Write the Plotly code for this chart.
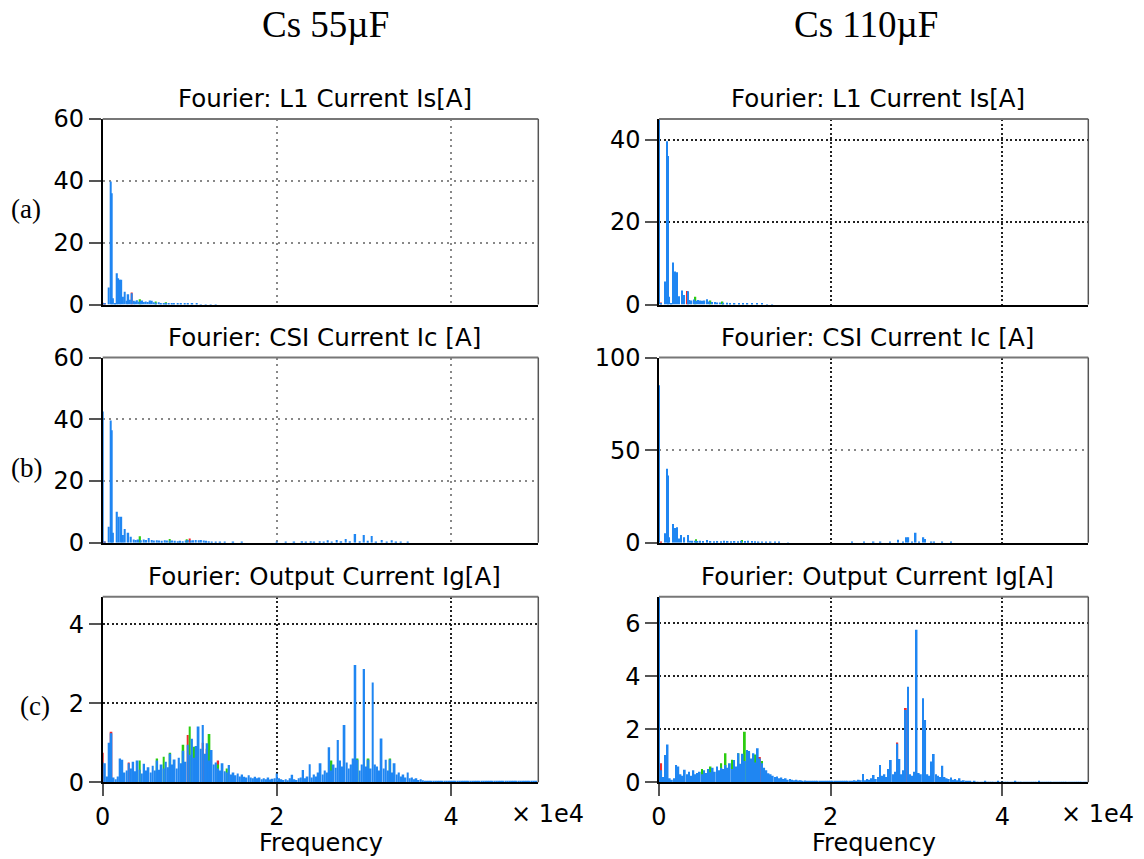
import plotly.graph_objects as go
from plotly.subplots import make_subplots

# ---------------- DATA ----------------
BIN_HZ = 250  # frequency spacing of the dense (c) spectra

# (a) L1 current Is, Cs 55uF  -- sparse (frequency Hz, amplitude A)
a55_blue_f = [0, 250, 700, 900, 1050, 1200, 1450, 1650, 1800, 1950, 2150, 2350, 2550, 2750, 2950, 3150, 3350, 3550,
              3750, 3950, 4150, 4350, 4550, 4750, 4950, 5200, 5450, 5650, 5850, 6100, 6400, 6700, 7000, 7300, 7600,
              7900, 8200, 8600, 9000, 9400, 9800, 10300, 10800, 11300, 11800, 12400, 13000]
a55_blue_v = [0.4, 0.3, 5.5, 39.8, 36.0, 2.0, 0.3, 10.1, 8.5, 8.0, 8.0, 2.5, 4.1, 1.2, 3.3, 1.5, 3.6, 1.2,
              1.0, 1.4, 0.9, 1.1, 1.3, 0.8, 1.0, 0.8, 1.3, 1.2, 0.7, 0.6, 0.7, 0.5, 0.5, 0.45, 0.5,
              0.4, 0.35, 0.3, 0.3, 0.25, 0.25, 0.2, 0.2, 0.15, 0.15, 0.1, 0.1]
a55_green_f = [4300, 6100, 7300]
a55_green_v = [1.7, 1.0, 0.7]
a55_red_f = [0, 250, 3350]
a55_red_v = [0.6, 0.5, 3.9]

# (a) L1 current Is, Cs 110uF
a110_blue_f = [0, 250, 700, 900, 1050, 1200, 1450, 1650, 1850, 2100, 2350, 2650, 2950, 3350, 3550, 3800, 4050,
               4300, 4550, 4800, 5050, 5300, 5600, 5900, 6200, 6500, 6800, 7100, 7500, 7900, 8300, 8800, 9300,
               9800, 10300, 10800, 11400, 12000, 12600, 13200]
a110_blue_v = [48.0, 0.3, 5.6, 39.6, 36.0, 1.9, 0.3, 10.2, 8.0, 7.8, 2.0, 3.4, 2.3, 3.2, 1.1, 1.0, 1.2,
               0.9, 1.1, 1.0, 0.9, 1.0, 1.3, 0.7, 0.6, 0.6, 0.5, 0.5, 0.45, 0.4,
               0.35, 0.3, 0.3, 0.25, 0.2, 0.2, 0.15, 0.15, 0.1, 0.1]
a110_green_f = [4250, 6000, 7400]
a110_green_v = [1.9, 1.0, 0.7]
a110_red_f = [250, 3300]
a110_red_v = [0.5, 3.3]

# (b) CSI current Ic, Cs 55uF
b55_blue_f = [0, 250, 700, 900, 1050, 1200, 1650, 1850, 2150, 2350, 2550, 2950, 3250, 3550, 3800, 4100, 4400,
              4700, 5000, 5300, 5600, 5900, 6200, 6500, 6800, 7100, 7400, 7700, 8000, 8300, 8600, 8900, 9200,
              9500, 9800, 10100, 10400, 10700, 11000, 11300, 11600, 11900, 12200, 12500, 13000, 13500, 14000,
              15000, 16000, 20000, 21000, 22000, 22900, 23350, 23850, 24300, 24900, 25400, 25850, 26300, 26850,
              27400, 27900, 28400, 29000, 29500, 30000, 30450, 30900, 31400, 32050, 32600, 33150, 33700, 34200,
              35000]
b55_blue_v = [42.5, 0.3, 5.2, 39.6, 36.4, 3.2, 10.0, 8.4, 8.4, 2.5, 4.4, 3.2, 1.9, 1.0, 0.9, 1.0, 0.8,
              1.0, 0.9, 1.5, 0.9, 0.7, 0.8, 0.7, 0.6, 0.8, 0.7, 0.6, 0.7, 0.6, 0.5, 0.6, 0.5,
              0.7, 0.9, 0.7, 0.8, 0.9, 0.8, 0.9, 0.7, 0.6, 0.5, 0.4, 0.3, 0.2, 0.15,
              0.1, 0.1, 0.1, 0.15, 0.2, 0.5, 0.2, 0.5, 0.3, 0.5, 0.3, 0.8, 0.4, 0.9,
              0.5, 1.2, 0.5, 2.8, 0.5, 2.5, 0.6, 2.2, 0.4, 0.9, 0.4, 0.8, 0.3, 0.2,
              0.1]
b55_green_f = [4300, 7700, 9650]
b55_green_v = [2.1, 1.2, 1.1]
b55_red_f = [0, 250, 10000]
b55_red_v = [0.5, 0.4, 1.4]

# (b) CSI current Ic, Cs 110uF
b110_blue_f = [0, 700, 900, 1050, 1200, 1650, 1850, 2100, 2350, 2550, 2950, 3350, 3600, 3900, 4200, 4500, 4800,
               5100, 5600, 6000, 6400, 6800, 7200, 7600, 8000, 8400, 8800, 9200, 9600, 10000, 10400, 10800,
               11200, 11600, 12000, 12500, 13000, 13500, 14000, 15000, 22500, 23900, 25000, 25800, 26900, 27850,
               28400, 28850, 29050, 29500, 29900, 30300, 30800, 31000, 31750, 32000, 33000, 34000]
b110_blue_v = [85.0, 5.1, 39.9, 36.3, 2.9, 10.1, 7.9, 8.3, 2.3, 4.1, 2.9, 4.1, 1.1, 1.0, 1.1, 0.9, 1.0,
               0.9, 1.5, 0.9, 0.8, 0.9, 0.8, 1.0, 0.9, 0.8, 0.9, 0.8, 1.0, 0.9, 1.0, 0.9,
               0.8, 0.7, 0.5, 0.5, 0.4, 0.3, 0.2, 0.1, 0.2, 0.3, 0.3, 0.5, 0.7, 1.6,
               0.4, 2.9, 2.9, 0.4, 5.4, 0.5, 2.9, 2.0, 0.7, 0.7, 0.5, 0.2]
b110_green_f = [4300, 9650]
b110_green_v = [1.8, 1.5]
b110_red_f = [250]
b110_red_v = [0.4]

# (c) Output current Ig, Cs 55uF -- dense, one value every BIN_HZ from 0 Hz
c55_blue = [0.5, 0.48, 0.15, 1.00, 1.24, 0.12, 0.08, 0.15, 0.60, 0.57,
            0.25, 0.30, 0.48, 0.35, 0.52, 0.28, 0.55, 0.32, 0.22, 0.47,
            0.30, 0.38, 0.25, 0.42, 0.30, 0.55, 0.32, 0.45, 0.35, 0.52,
            0.38, 0.72, 0.45, 0.58, 0.35, 0.62, 0.48, 0.80, 0.52, 0.95,
            0.70, 1.10, 0.62, 0.92, 1.41, 0.85, 1.45, 0.72, 0.99, 0.55,
            0.82, 0.45, 0.50, 0.35, 0.30, 0.48, 0.28, 0.25, 0.44, 0.20,
            0.25, 0.18, 0.22, 0.15, 0.20, 0.14, 0.12, 0.18, 0.12, 0.10,
            0.14, 0.10, 0.12, 0.08, 0.10, 0.08, 0.12, 0.07, 0.09, 0.10,
            0.22, 0.10, 0.08, 0.06, 0.08, 0.05, 0.10, 0.19, 0.08, 0.06,
            0.10, 0.12, 0.31, 0.10, 0.15, 0.46, 0.12, 0.20, 0.15, 0.25,
            0.48, 0.20, 0.30, 0.25, 0.89, 0.30, 0.45, 0.37, 1.07, 0.55,
            0.40, 1.45, 0.50, 0.35, 0.45, 0.60, 2.97, 0.57, 0.30, 0.45,
            2.87, 0.40, 0.57, 0.35, 2.53, 0.45, 0.40, 0.30, 1.11, 0.35,
            0.57, 0.30, 0.58, 0.25, 0.48, 0.20, 0.25, 0.15, 0.20, 0.12,
            0.25, 0.10, 0.12, 0.08, 0.10, 0.06, 0.08, 0.05, 0.03, 0.02,
            0.03, 0.02, 0.02, 0.03, 0.02, 0.02, 0.03, 0.02, 0.02, 0.02,
            0.03, 0.02, 0.02, 0.02, 0.03, 0.02, 0.02, 0.02, 0.02, 0.03,
            0.02, 0.02, 0.02, 0.02, 0.02, 0.03, 0.02, 0.02, 0.02, 0.02,
            0.02, 0.02, 0.03, 0.02, 0.02, 0.02, 0.02, 0.02, 0.02, 0.02,
            0.02, 0.02, 0.02, 0.02, 0.02, 0.02, 0.02, 0.02, 0.02, 0.03]
c55_green_f = [4250, 6250, 7000, 7750, 9250, 10000, 10500, 12250, 13250, 14250, 26250, 29250, 30500, 33000]
c55_green_v = [0.55, 0.6, 0.65, 0.75, 0.95, 1.41, 0.9, 1.22, 0.45, 0.35, 0.55, 0.6, 0.6, 0.6]
c55_red_f = [0, 1000, 3000, 9750, 11500, 12000, 13250]
c55_red_v = [0.75, 1.28, 0.5, 1.2, 1.0, 0.85, 0.55]

# (c) Output current Ig, Cs 110uF
c110_blue = [7.5, 0.45, 0.20, 1.03, 1.43, 0.15, 0.10, 0.15, 0.65, 0.60,
             0.30, 0.25, 0.47, 0.30, 0.40, 0.25, 0.45, 0.30, 0.35, 0.40,
             0.30, 0.45, 0.35, 0.50, 0.38, 0.55, 0.40, 0.60, 0.45, 0.55,
             0.50, 0.65, 0.55, 0.72, 0.50, 0.84, 0.60, 1.10, 0.70, 1.08,
             0.80, 1.22, 1.18, 0.90, 1.10, 0.75, 1.28, 0.90, 0.72, 0.55,
             0.45, 0.34, 0.30, 0.25, 0.20, 0.22, 0.15, 0.18, 0.12, 0.15,
             0.10, 0.12, 0.10, 0.08, 0.10, 0.07, 0.08, 0.06, 0.07, 0.05,
             0.06, 0.05, 0.04, 0.05, 0.04, 0.05, 0.04, 0.05, 0.04, 0.05,
             0.06, 0.05, 0.04, 0.05, 0.04, 0.06, 0.05, 0.04, 0.05, 0.06,
             0.05, 0.08, 0.06, 0.10, 0.08, 0.31, 0.08, 0.12, 0.10, 0.15,
             0.28, 0.12, 0.20, 0.65, 0.25, 0.30, 0.20, 0.50, 0.84, 0.30,
             0.40, 1.45, 0.88, 0.30, 0.45, 2.73, 3.60, 0.30, 0.25, 0.40,
             5.75, 0.35, 0.30, 3.17, 2.35, 0.30, 0.25, 0.78, 1.07, 0.30,
             0.25, 0.20, 0.62, 0.20, 0.15, 0.12, 0.18, 0.10, 0.12, 0.08,
             0.15, 0.06, 0.08, 0.05, 0.03, 0.03, 0.02, 0.03, 0.02, 0.02,
             0.02, 0.02, 0.03, 0.02, 0.02, 0.02, 0.02, 0.02, 0.03, 0.02,
             0.02, 0.02, 0.02, 0.02, 0.02, 0.02, 0.03, 0.02, 0.02, 0.02,
             0.02, 0.02, 0.02, 0.02, 0.02, 0.02, 0.02, 0.03, 0.02, 0.02,
             0.02, 0.02, 0.02, 0.02, 0.02, 0.02, 0.02, 0.02, 0.02, 0.02,
             0.02, 0.02, 0.02, 0.02, 0.02, 0.02, 0.02, 0.02, 0.02, 0.02]
c110_green_f = [5000, 6000, 7250, 7750, 8500, 9250, 10000, 10500, 11250, 12000]
c110_green_v = [0.5, 0.6, 0.72, 1.1, 0.85, 1.1, 1.91, 1.15, 1.05, 0.8]
c110_red_f = [250, 9750, 10500, 11750, 27750, 28750]
c110_red_v = [0.72, 1.0, 1.1, 0.95, 1.5, 2.8]

col_titles = ["Cs 55µF", "Cs 110µF"]
row_labels = ["(a)", "(b)", "(c)"]
panel_titles = ["Fourier: L1 Current Is[A]", "Fourier: CSI Current Ic [A]", "Fourier: Output Current Ig[A]"]
y_ranges = [[0, 60], [0, 45], [0, 60], [0, 100], [0, 4.7], [0, 7]]
y_ticks = [[0, 20, 40, 60], [0, 20, 40], [0, 20, 40, 60], [0, 50, 100], [0, 2, 4], [0, 2, 4, 6]]
x_ticks = [0, 20000, 40000]
x_ticklabels = ["0", "2", "4"]

# ---------------- FIGURE ----------------
BLUE, GREEN, RED = "#1f86f2", "#2ccc10", "#f0282d"
W, H = 1144, 859

def grid_freqs(vals):
    return [i * BIN_HZ for i in range(len(vals))]

panels = [
    (1, 1, (a55_red_f, a55_red_v), (a55_green_f, a55_green_v), (a55_blue_f, a55_blue_v), 170),
    (1, 2, (a110_red_f, a110_red_v), (a110_green_f, a110_green_v), (a110_blue_f, a110_blue_v), 170),
    (2, 1, (b55_red_f, b55_red_v), (b55_green_f, b55_green_v), (b55_blue_f, b55_blue_v), 170),
    (2, 2, (b110_red_f, b110_red_v), (b110_green_f, b110_green_v), (b110_blue_f, b110_blue_v), 170),
    (3, 1, (c55_red_f, c55_red_v), (c55_green_f, c55_green_v), (grid_freqs(c55_blue), c55_blue), 210),
    (3, 2, (c110_red_f, c110_red_v), (c110_green_f, c110_green_v), (grid_freqs(c110_blue), c110_blue), 210),
]

fig = make_subplots(rows=3, cols=2)

for r, c, red, green, blue, bw in panels:
    for (fx, fy), col in ((red, RED), (green, GREEN), (blue, BLUE)):
        fig.add_trace(go.Bar(x=fx, y=fy, width=[bw] * len(fx), marker=dict(color=col, line=dict(width=0)),
                             showlegend=False, hoverinfo="skip"), row=r, col=c)

# pixel geometry of plot areas
col_px = [(102.7, 538.3), (659.0, 1088.3)]
row_px = [(119.0, 304.5), (357.5, 542.7), (596.7, 782.3)]

tick_font = dict(family="DejaVu Sans", size=24, color="black")
shapes = []
annotations = []
for idx in range(6):
    r, c = idx // 2, idx % 2
    x0, x1 = col_px[c]
    yt, yb = row_px[r]
    xa = "xaxis" if idx == 0 else f"xaxis{idx + 1}"
    ya = "yaxis" if idx == 0 else f"yaxis{idx + 1}"
    gray_style = (idx in (0, 2))
    fig.layout[xa].update(
        domain=[x0 / W, x1 / W], range=[0, 50000], tickvals=x_ticks, ticktext=x_ticklabels,
        ticks="outside" if r == 2 else "", ticklen=12, tickwidth=1.5, tickcolor="#555",
        showticklabels=(r == 2), tickfont=tick_font, automargin=False,
        showline=True, linecolor="black", linewidth=1.5, zeroline=False,
        showgrid=True, gridcolor="#888" if gray_style else "#222", gridwidth=1.5,
        griddash="2px,4.5px" if gray_style else "2px,2.5px", fixedrange=True)
    fig.layout[ya].update(
        domain=[1 - yb / H, 1 - yt / H], range=y_ranges[idx], tickvals=y_ticks[idx],
        ticks="outside", ticklen=12, tickwidth=1.5, tickcolor="#555", tickfont=tick_font, automargin=False,
        showline=True, linecolor="black", linewidth=1.5, zeroline=False,
        showgrid=True, gridcolor="#888" if idx in (0, 2, 3) else "#222", gridwidth=1.5,
        griddash="2px,4.5px" if idx in (0, 2, 3) else "2px,2.5px", fixedrange=True)
    xr = "x" if idx == 0 else f"x{idx + 1}"
    yr = "y" if idx == 0 else f"y{idx + 1}"
    # top and right frame lines
    shapes.append(dict(type="line", xref=f"{xr} domain", yref=f"{yr} domain", x0=0, x1=1, y0=1, y1=1,
                       line=dict(color="#777", width=2)))
    shapes.append(dict(type="line", xref=f"{xr} domain", yref=f"{yr} domain", x0=1, x1=1, y0=0, y1=1,
                       line=dict(color="#555", width=1.5)))
    # panel title
    annotations.append(dict(text=panel_titles[r], x=((x0 + x1) / 2 + 4) / W, y=1 - (yt - 20) / H,
                            xref="paper", yref="paper", showarrow=False, xanchor="center", yanchor="middle",
                            font=dict(family="DejaVu Sans", size=24.5, color="black")))

# column headers
for c, txt in enumerate(col_titles):
    cx = [325, 866][c]
    annotations.append(dict(text=txt, x=cx / W, y=1 - 25 / H, xref="paper", yref="paper", showarrow=False,
                            xanchor="center", yanchor="middle",
                            font=dict(family="Liberation Serif", size=37, color="black")))
# row labels
for r, txt in enumerate(row_labels):
    pos = [(26, 209), (26, 468), (35, 706)][r]
    annotations.append(dict(text=txt, x=pos[0] / W, y=1 - pos[1] / H, xref="paper", yref="paper",
                            showarrow=False, xanchor="center", yanchor="middle",
                            font=dict(family="Liberation Serif", size=27, color="black")))
# x-axis labels and exponent
for c in range(2):
    x0, x1 = col_px[c]
    annotations.append(dict(text="Frequency", x=((x0 + x1) / 2) / W, y=1 - 843 / H, xref="paper", yref="paper",
                            showarrow=False, xanchor="center", yanchor="middle", font=tick_font))
    annotations.append(dict(text="× 1e4", x=(x1 + 9) / W, y=1 - 814 / H, xref="paper", yref="paper",
                            showarrow=False, xanchor="center", yanchor="middle", font=tick_font))

fig.update_layout(width=W, height=H, autosize=False, margin=dict(l=0, r=0, t=0, b=0),
                  paper_bgcolor="white", plot_bgcolor="white", barmode="overlay",
                  shapes=shapes, annotations=annotations, showlegend=False)

fig.write_html("out.html")
